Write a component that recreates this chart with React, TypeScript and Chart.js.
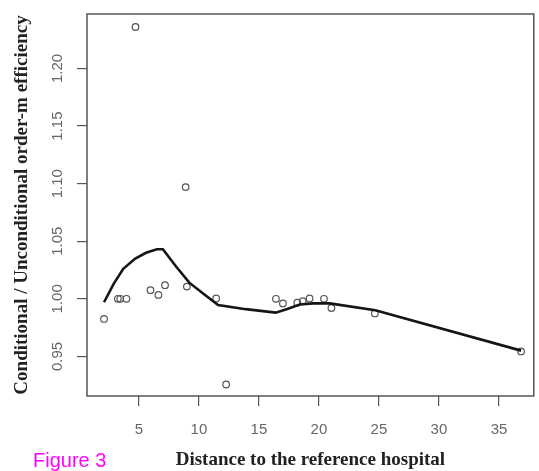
import React, { useEffect, useRef } from 'react';
import { Chart, registerables } from 'chart.js';

Chart.register(...registerables);

// Observed points (distance, efficiency ratio)
const pointX = [2.1, 3.25, 3.45, 3.97, 4.72, 5.97, 6.63, 7.18, 8.9, 9.0, 11.44, 12.27, 16.42, 17.0, 18.2, 18.65, 19.22, 20.42, 21.04, 24.66, 36.84];
const pointY = [0.9825, 1.0, 1.0, 1.0, 1.236, 1.0075, 1.0034, 1.0118, 1.097, 1.0106, 1.0003, 0.9256, 1.0, 0.996, 0.9966, 0.998, 1.0003, 1.0, 0.992, 0.9873, 0.9543];

// Smoothed curve
const curveX = [2.1, 2.9, 3.7, 4.7, 5.6, 6.5, 7.0, 8.1, 9.2, 10.3, 11.6, 13.9, 16.4, 17.3, 18.4, 19.5, 20.9, 24.7, 36.84];
const curveY = [0.997, 1.013, 1.026, 1.035, 1.040, 1.043, 1.043, 1.028, 1.014, 1.005, 0.9945, 0.991, 0.988, 0.991, 0.995, 0.996, 0.996, 0.990, 0.955];

const xTicks = [5, 10, 15, 20, 25, 30, 35];
const yTicks = [0.95, 1.0, 1.05, 1.1, 1.15, 1.2];

const xTitle = 'Distance to the reference hospital';
const yTitle = 'Conditional / Unconditional order-m efficiency';
const figureLabel = 'Figure 3';

const boxPlugin = {
  id: 'plotBox',
  beforeDatasetsDraw(chart: any) {
    const { ctx, chartArea } = chart;
    ctx.save();
    ctx.strokeStyle = '#555';
    ctx.lineWidth = 1.5;
    ctx.strokeRect(chartArea.left, chartArea.top, chartArea.right - chartArea.left, chartArea.bottom - chartArea.top);
    ctx.restore();
  },
};

export default function App() {
  const ref = useRef<HTMLCanvasElement | null>(null);

  useEffect(() => {
    if (!ref.current) return;
    const chart = new Chart(ref.current, {
      type: 'scatter',
      data: {
        datasets: [
          {
            label: 'smooth',
            data: curveX.map((x, i) => ({ x, y: curveY[i] })),
            showLine: true,
            pointRadius: 0,
            borderColor: '#151515',
            borderWidth: 2.6,
            tension: 0,
            order: 0,
          },
          {
            label: 'points',
            data: pointX.map((x, i) => ({ x, y: pointY[i] })),
            pointRadius: 3.3,
            pointStyle: 'circle',
            backgroundColor: 'rgba(0,0,0,0)',
            borderColor: '#555',
            borderWidth: 1.2,
            order: 1,
          },
        ],
      },
      options: {
        animation: false,
        responsive: false,
        layout: { padding: { top: 10, right: 4, left: 0, bottom: 0 } },
        plugins: {
          legend: { display: false },
          tooltip: { enabled: false },
        },
        scales: {
          x: {
            type: 'linear',
            min: 0.68,
            max: 37.9,
            afterBuildTicks: (scale: any) => {
              scale.ticks = xTicks.map((v) => ({ value: v }));
            },
            afterFit: (scale: any) => {
              scale.height = 75;
            },
            border: { display: false },
            grid: { drawOnChartArea: false, drawTicks: true, tickLength: 10, color: '#555', lineWidth: 1.2 },
            ticks: {
              autoSkip: false,
              maxRotation: 0,
              padding: 15,
              color: '#666',
              font: { family: '"Liberation Sans", Arial, sans-serif', size: 15 },
              callback: (v: any) => String(v),
            },
            title: {
              display: true,
              text: xTitle,
              color: '#222',
              padding: { top: 0, bottom: 0 },
              font: { family: '"Liberation Serif", "Times New Roman", serif', size: 19, weight: 'bold', lineHeight: 1.2 },
            },
          },
          y: {
            type: 'linear',
            min: 0.9156,
            max: 1.2473,
            afterBuildTicks: (scale: any) => {
              scale.ticks = yTicks.map((v) => ({ value: v }));
            },
            afterFit: (scale: any) => {
              scale.width = 87;
            },
            border: { display: false },
            grid: { drawOnChartArea: false, drawTicks: true, tickLength: 10, color: '#555', lineWidth: 1.2 },
            ticks: {
              autoSkip: false,
              minRotation: 90,
              maxRotation: 90,
              crossAlign: 'center',
              padding: 5,
              color: '#666',
              font: { family: '"Liberation Sans", Arial, sans-serif', size: 15 },
              callback: (v: any) => Number(v).toFixed(2),
            },
            title: {
              display: true,
              text: yTitle,
              color: '#222',
              padding: { top: 10.5, bottom: 0 },
              font: { family: '"Liberation Serif", "Times New Roman", serif', size: 19, weight: 'bold', lineHeight: 1.2 },
            },
          },
        },
      } as any,
      plugins: [boxPlugin],
    });
    return () => chart.destroy();
  }, []);

  return (
    <div style={{ position: 'fixed', left: 0, top: 0, width: 539, height: 471, background: '#fff' }}>
      <canvas ref={ref} width={539} height={471} style={{ display: 'block', width: 539, height: 471 }} />
      <div
        style={{
          position: 'absolute',
          left: 33,
          top: 450,
          fontFamily: '"Liberation Sans", Arial, sans-serif',
          fontSize: 20,
          lineHeight: '20px',
          color: '#ff00ff',
          whiteSpace: 'nowrap',
        }}
      >
        {figureLabel}
      </div>
    </div>
  );
}
